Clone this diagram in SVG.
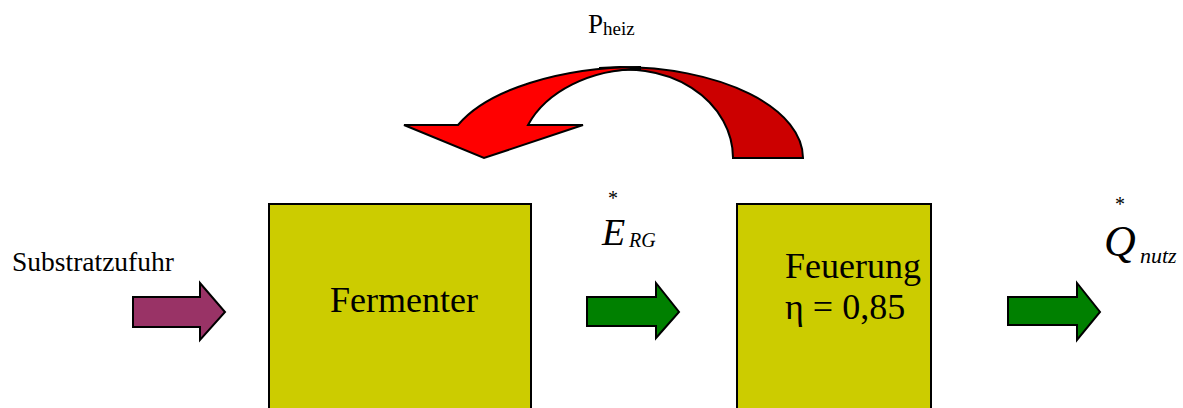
<svg xmlns="http://www.w3.org/2000/svg" width="1183" height="408" viewBox="0 0 1183 408">
<style>
.box{fill:#CCCC00;stroke:#000;stroke-width:2}
.arr{stroke:#000;stroke-width:2;stroke-linejoin:miter}
.t{font-family:"Liberation Serif","Times New Roman",serif;fill:#000}
.i{font-style:italic}
</style>
<rect width="1183" height="408" fill="#fff"/>
<g id="connectors">
  <g id="heat-return">
    <path class="arr" fill="#CC0000" d="M803,158 A183,91 0 0 0 620,67 L600,68 L600,73 A105,88 0 0 1 733,158 Z"/>
    <path class="arr" fill="#FF0000" d="M458,125 A196,91 0 0 1 640,67 L640,69 A121,89 0 0 0 528,125 L583,125 L484,158 L404,125 Z"/>
  </g>
  <polygon id="arrow-substrat" class="arr" fill="#993366" points="133,297 200,297 200,283 225,312 200,340 200,327 133,327"/>
  <polygon id="arrow-erg" class="arr" fill="#008000" points="587,297 656,297 656,283 679,312 656,338 656,326 587,326"/>
  <polygon id="arrow-qnutz" class="arr" fill="#008000" points="1008,297 1077,297 1077,283 1100,312 1077,340 1077,325 1008,325"/>
</g>
<g id="fermenter">
  <rect class="box" x="269" y="204" width="262" height="205"/>
  <text class="t" x="330" y="312" font-size="36">Fermenter</text>
</g>
<g id="feuerung">
  <rect class="box" x="737" y="204" width="194" height="205"/>
  <text class="t" x="785" y="278" font-size="36">Feuerung</text>
  <text class="t" x="785" y="319" font-size="36">η = 0,85</text>
</g>
<g id="labels">
  <text class="t" x="12" y="271" font-size="27.5">Substratzufuhr</text>
  <text class="t" x="588" y="33" font-size="27">P<tspan font-size="19" dy="2">heiz</tspan></text>
  <text class="t" x="608" y="205" font-size="20">*</text>
  <text class="t i" x="602" y="245" font-size="38">E</text>
  <text class="t i" x="629" y="247" font-size="20">RG</text>
  <text class="t" x="1115" y="211" font-size="20">*</text>
  <text class="t i" x="1104" y="256" font-size="44">Q</text>
  <text class="t i" x="1140" y="263" font-size="22">nutz</text>
</g>
</svg>
